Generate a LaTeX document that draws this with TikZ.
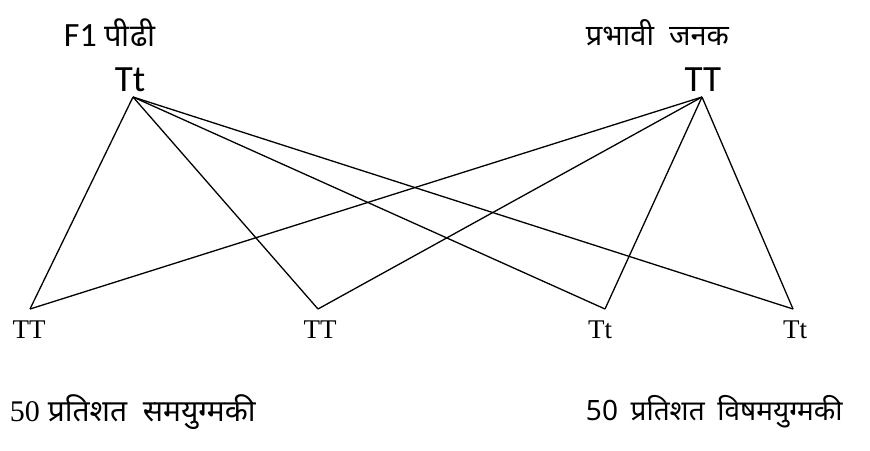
\documentclass[tikz,border=0pt]{standalone}
\usepackage{fontspec}
\setmainfont{Liberation Serif}
\newfontfamily\calib{Carlito}
\newfontfamily\hindi[Script=Devanagari]{Noto Sans}
\tikzset{
  parent/.style={font=\calib\fontsize{37}{37}\selectfont},
  child/.style={font=\fontsize{27}{27}\selectfont},
  caption/.style={font=\hindi\fontsize{29}{29}\selectfont,anchor=west},
}
\begin{document}
\begin{tikzpicture}[x=1pt,y=-1pt,line width=1.3pt]
  \useasboundingbox (0,0) rectangle (870,450);
  \node[caption] (gen) at (60,33) {{\calib\fontsize{34}{34}\selectfont F1} \fontsize{31}{31}\selectfont पीढी};
  \node[caption] (dom) at (582,33) {प्रभावी\ \ जनक};
  \node[parent] (het) at (130,80) {Tt};
  \node[parent] (hom) at (703,80) {TT};
  \coordinate (a) at (133,97);
  \coordinate (b) at (702,97);
  \coordinate (c1) at (30,309);
  \coordinate (c2) at (318,309);
  \coordinate (c3) at (605,309);
  \coordinate (c4) at (793,309);
  \node[child] (k1) at (29,330) {TT};
  \node[child] (k2) at (320,330) {TT};
  \node[child] (k3) at (600,330) {Tt};
  \node[child] (k4) at (795,330) {Tt};
  \foreach \c in {c1,c2,c3,c4} {
    \draw (a) -- (\c);
    \draw (b) -- (\c);
  }
  \node[caption,font=\hindi\fontsize{30}{30}\selectfont] (same) at (6,412) {{\rmfamily 50} प्रतिशत\ \ समयुग्मकी};
  \node[caption,font=\hindi\fontsize{28}{28}\selectfont] (diff) at (582,412) {50\hspace{0.45em}प्रतिशत\hspace{0.45em}विषमयुग्मकी};
\end{tikzpicture}
\end{document}
